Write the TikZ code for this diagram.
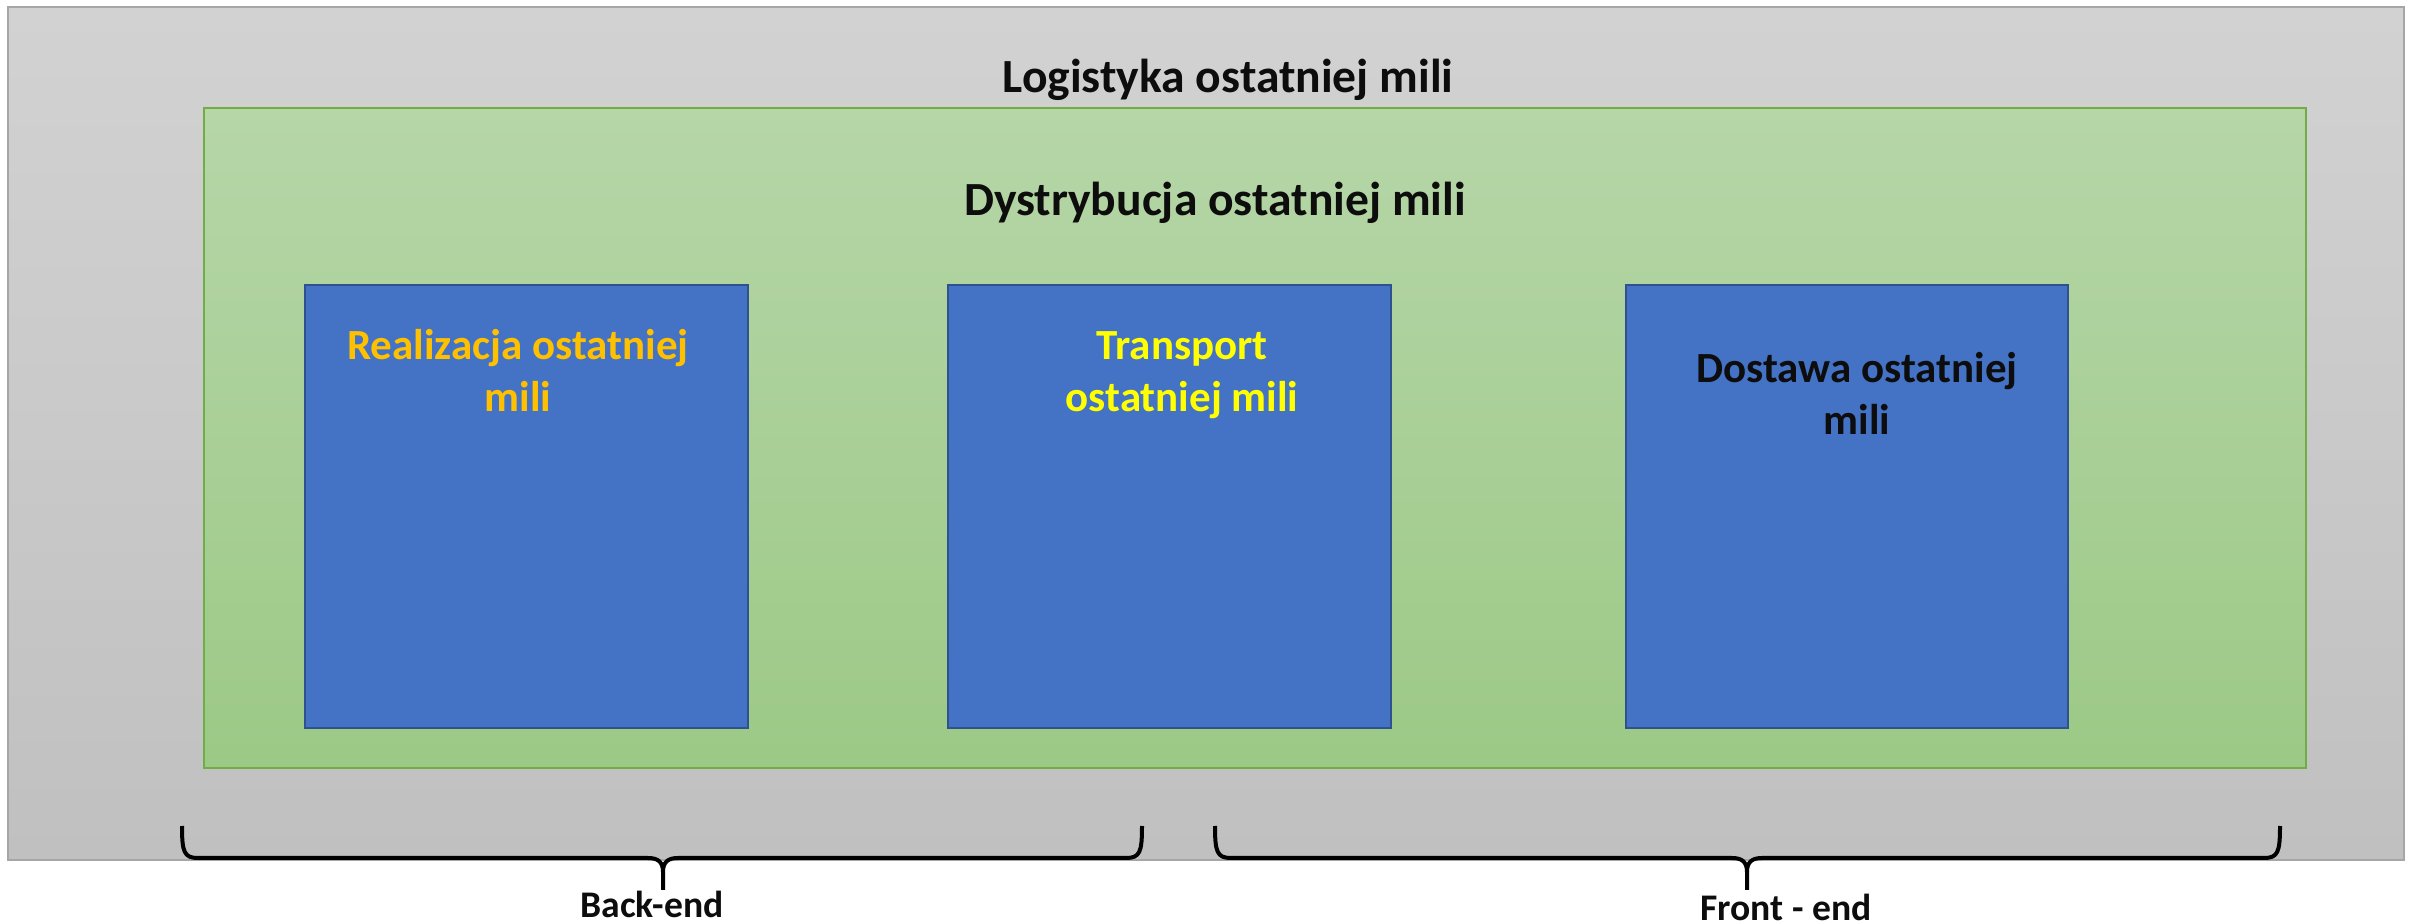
\documentclass[tikz,border=0pt]{standalone}
\usepackage{fontspec}
\setmainfont{Carlito}
\definecolor{grayTop}{HTML}{D2D2D2}
\definecolor{grayBot}{HTML}{C0C0C0}
\definecolor{grayLine}{HTML}{A6A6A6}
\definecolor{greenTop}{HTML}{B6D6A8}
\definecolor{greenBot}{HTML}{9CC986}
\definecolor{greenLine}{HTML}{70AD47}
\definecolor{blueFill}{HTML}{4472C4}
\definecolor{blueLine}{HTML}{2F528F}
\definecolor{txtOrange}{HTML}{FFC000}
\definecolor{txtYellow}{HTML}{FFFF00}
\definecolor{txtBlack}{HTML}{0D0D0D}
\tikzset{
  outerbox/.style={draw=grayLine, line width=1.2pt, top color=grayTop, bottom color=grayBot},
  greenbox/.style={draw=greenLine, line width=1pt, top color=greenTop, bottom color=greenBot},
  bluebox/.style={draw=blueLine, line width=1.2pt, fill=blueFill},
  titletext/.style={font=\fontsize{23.8}{28}\selectfont\bfseries, text=txtBlack, inner sep=0pt, anchor=base},
  boxtext/.style={font=\fontsize{21.5}{26}\selectfont\bfseries, align=center, inner sep=0pt, anchor=base},
  labeltext/.style={font=\fontsize{18.8}{22}\selectfont\bfseries, text=txtBlack, inner sep=0pt, anchor=base},
  bracestyle/.style={draw=black, line width=2pt, line join=round}
}
\begin{document}
\begin{tikzpicture}[x=0.5pt,y=-0.5pt]
\useasboundingbox (0,0) rectangle (2417,924);
\fill[white] (0,0) rectangle (2417,924);
% outer and green frames
\path[outerbox] (8,7) rectangle (2404,860);
\path[greenbox] (204,108) rectangle (2306,768);
% blue boxes
\path[bluebox] (305,285) rectangle (748,728);
\path[bluebox] (948,285) rectangle (1391,728);
\path[bluebox] (1626,285) rectangle (2068,728);
% titles
\node[titletext] (logistyka) at (1228,93) {Logistyka ostatniej mili};
\node[titletext] (dystrybucja) at (1215,216) {Dystrybucja ostatniej mili};
% box texts (base = baseline of the last line)
\node[boxtext, text=txtOrange] (realizacja) at (518,412) {Realizacja ostatniej\\mili};
\node[boxtext, text=txtYellow] (transport) at (1182,412) {Transport\\ostatniej mili};
\node[boxtext, text=txtBlack] (dostawa) at (1857,435) {Dostawa ostatniej\\mili};
% braces
\draw[bracestyle] (182,826) .. controls (182,852) and (184,858) .. (198,858) -- (648,858)
  .. controls (658,858) and (663,862) .. (663,872) -- (663,890);
\draw[bracestyle] (1142,826) .. controls (1142,852) and (1140,858) .. (1126,858) -- (678,858)
  .. controls (668,858) and (663,862) .. (663,872);
\draw[bracestyle] (1215,826) .. controls (1215,852) and (1217,858) .. (1231,858) -- (1732,858)
  .. controls (1742,858) and (1747,862) .. (1747,872) -- (1747,890);
\draw[bracestyle] (2280,826) .. controls (2280,852) and (2278,858) .. (2264,858) -- (1762,858)
  .. controls (1752,858) and (1747,862) .. (1747,872);
% brace labels
\node[labeltext] (backend) at (652,917) {Back-end};
\node[labeltext] (frontend) at (1786,921) {Front - end};
\end{tikzpicture}
\end{document}
